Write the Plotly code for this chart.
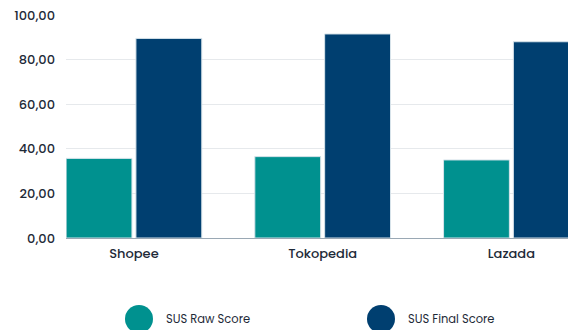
import plotly.graph_objects as go

categories = ["Shopee", "Tokopedia", "Lazada"]
raw_score = [35.7, 36.5, 35.0]
final_score = [89.5, 91.5, 88.0]
series_names = ["SUS Raw Score", "SUS Final Score"]
colors = ["#00918f", "#003f70"]
font_family = "Poppins, Lato, 'Open Sans', sans-serif"
text_color = "#1e2a38"

fig = go.Figure()
for name, vals, col in zip(series_names, [raw_score, final_score], colors):
    fig.add_trace(go.Bar(
        x=categories, y=vals, name=name,
        marker=dict(color=col, line=dict(color="#d7e3ea", width=1)),
        showlegend=False,
    ))

# custom circular legend
legend_x = [139, 381]
for name, col, lx in zip(series_names, colors, legend_x):
    fig.add_shape(type="circle", xref="paper", yref="paper",
                  x0=(lx - 66 - 14) / 502, x1=(lx - 66 + 14) / 502,
                  y0=(238 - 333) / 223, y1=(238 - 305) / 223,
                  fillcolor=col, line=dict(width=0))
    fig.add_annotation(text=name, xref="paper", yref="paper",
                       x=(lx - 66 + 25) / 502, y=(238 - 319) / 223,
                       xanchor="left", yanchor="middle", showarrow=False,
                       font=dict(family=font_family, size=11.5, color=text_color))

fig.update_layout(
    width=568, height=330,
    margin=dict(l=66, r=0, t=15, b=92),
    paper_bgcolor="white", plot_bgcolor="white",
    separators=",.",
    barmode="group", bargap=0.26, bargroupgap=0.057,
    font=dict(family=font_family, size=13, color=text_color),
    xaxis=dict(range=[-0.36, 2.30], showline=True, linecolor="#9aa8b4",
               linewidth=1, ticks="", showgrid=False, ticklabelstandoff=3,
               tickfont=dict(size=13, color=text_color, weight=500)),
    yaxis=dict(range=[0, 100], tickvals=[0, 20, 40, 60, 80, 100],
               tickformat=".2f", showgrid=True, gridcolor="#e6e9ec",
               gridwidth=1, zeroline=False, ticks="", ticklabelstandoff=10,
               tickfont=dict(size=13, color=text_color, weight=500)),
)

fig.write_html("out.html")
